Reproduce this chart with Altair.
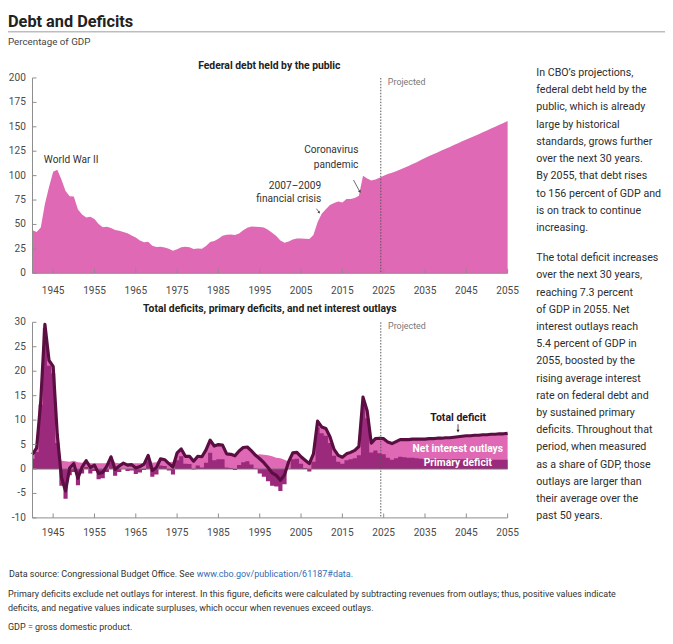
import altair as alt
import pandas as pd

# ---------------- data ----------------
YEARS = list(range(1940, 2056))

DEBT_HIST = [44.2, 42.3, 47.0, 70.9, 88.3, 103.9, 106.1, 96.0, 84.3, 79.0,
             78.6, 65.4, 60.1, 57.1, 57.9, 55.7, 50.6, 47.2, 47.7, 46.4,
             44.3, 43.5, 42.3, 41.0, 38.7, 36.7, 33.7, 31.8, 32.2, 28.3,
             27.0, 27.1, 26.4, 25.1, 23.1, 24.5, 26.7, 27.1, 26.6, 24.9,
             25.5, 25.2, 27.9, 32.1, 33.1, 35.3, 38.4, 39.5, 39.8, 39.3,
             40.8, 44.0, 46.6, 47.8, 47.7, 47.5, 46.8, 44.5, 41.6, 38.2,
             33.6, 31.4, 32.5, 34.5, 35.5, 35.6, 35.3, 35.2, 39.2, 52.3,
             60.9, 65.5, 70.0, 71.9, 73.4, 72.5, 76.1, 76.1, 77.1, 79.4,
             99.8, 97.0, 94.9, 96.0, 97.8]
DEBT_PROJ = [100.0, 101.7, 103.0, 104.6, 106.3, 108.0, 109.9, 111.8, 113.8, 115.9, 118.0,
             120.0, 121.9, 123.8, 125.7, 127.6, 129.4, 131.3, 133.2, 135.1, 137.0,
             138.8, 140.6, 142.5, 144.4, 146.3, 148.2, 150.1, 152.1, 154.0, 156.0]

TOTAL_HIST = [3.0, 4.3, 13.9, 29.6, 22.2, 21.0, 7.0, -1.7, -4.5, 0.2,
              1.1, -1.9, 0.4, 1.7, 0.3, 0.8, -0.9, -0.7, 0.6, 2.5,
              -0.1, 0.6, 1.2, 0.8, 0.9, 0.2, 0.5, 1.0, 2.8, -0.3,
              0.3, 2.1, 1.9, 1.1, 0.4, 3.3, 4.1, 2.6, 2.6, 1.6,
              2.6, 2.5, 3.9, 5.9, 4.7, 5.0, 4.9, 3.1, 3.0, 2.7,
              3.7, 4.4, 4.5, 3.7, 2.8, 2.1, 1.3, 0.3, -0.8, -1.3,
              -2.3, -1.2, 1.5, 3.3, 3.4, 2.5, 1.8, 1.1, 3.1, 9.8,
              8.6, 8.3, 6.6, 4.0, 2.8, 2.4, 3.1, 3.4, 3.8, 4.6,
              14.7, 11.9, 5.3, 6.2, 6.3]
TOTAL_PROJ = [6.2, 5.5, 5.2, 5.6, 6.0, 6.0, 6.0, 6.1, 6.1, 6.1, 6.1,
              6.2, 6.2, 6.3, 6.3, 6.4, 6.4, 6.5, 6.6, 6.7, 6.8,
              6.8, 6.9, 6.9, 7.0, 7.0, 7.1, 7.1, 7.2, 7.2, 7.3]

INTEREST_HIST = [0.9, 0.8, 0.7, 0.8, 1.1, 1.4, 1.7, 1.7, 1.6, 1.5,
                 1.7, 1.4, 1.3, 1.3, 1.2, 1.2, 1.2, 1.2, 1.2, 1.1,
                 1.3, 1.2, 1.2, 1.2, 1.2, 1.2, 1.2, 1.2, 1.2, 1.3,
                 1.4, 1.4, 1.3, 1.4, 1.5, 1.5, 1.5, 1.5, 1.6, 1.7,
                 1.9, 2.2, 2.6, 2.6, 2.9, 3.0, 2.9, 2.8, 2.8, 2.9,
                 2.9, 3.0, 2.9, 2.8, 2.7, 3.0, 2.9, 2.8, 2.6, 2.3,
                 2.2, 1.9, 1.5, 1.3, 1.3, 1.4, 1.6, 1.6, 1.6, 1.3,
                 1.3, 1.5, 1.3, 1.3, 1.3, 1.3, 1.3, 1.4, 1.6, 1.8,
                 1.6, 1.5, 1.9, 2.4, 3.1]
INTEREST_PROJ = [3.2, 3.2, 3.3, 3.4, 3.5, 3.6, 3.7, 3.8, 3.9, 4.0, 4.1,
                 4.2, 4.2, 4.3, 4.3, 4.4, 4.5, 4.5, 4.6, 4.7, 4.8,
                 4.9, 4.9, 5.0, 5.0, 5.1, 5.2, 5.2, 5.3, 5.3, 5.4]

PROJECTION_START = 2024.3

X_TICKS = list(range(1945, 2056, 10))
TOP_Y_TICKS = [0, 25, 50, 75, 100, 125, 150, 175, 200]
BOT_Y_TICKS = [-10, -5, 0, 5, 10, 15, 20, 25, 30]

TITLE = "Debt and Deficits"
SUBTITLE = "Percentage of GDP"
TOP_TITLE = "Federal debt held by the public"
BOT_TITLE = "Total deficits, primary deficits, and net interest outlays"

PARA1 = ["In CBO\u2019s projections,", "federal debt held by the", "public, which is already",
         "large by historical", "standards, grows further", "over the next 30 years.",
         "By 2055, that debt rises", "to 156 percent of GDP and", "is on track to continue",
         "increasing."]
PARA2 = ["The total deficit increases", "over the next 30 years,", "reaching 7.3 percent",
         "of GDP in 2055. Net", "interest outlays reach", "5.4 percent of GDP in",
         "2055, boosted by the", "rising average interest", "rate on federal debt and",
         "by sustained primary", "deficits. Throughout that", "period, when measured",
         "as a share of GDP, those", "outlays are larger than", "their average over the",
         "past 50 years."]

FOOT_SRC = "Data source: Congressional Budget Office. See"
FOOT_LINK = "www.cbo.gov/publication/61187#data."
FOOT_NOTE1 = ("Primary deficits exclude net outlays for interest. In this figure, deficits were calculated by "
              "subtracting revenues from outlays; thus, positive values indicate")
FOOT_NOTE2 = "deficits, and negative values indicate surpluses, which occur when revenues exceed outlays."
FOOT_GDP = "GDP = gross domestic product."

# ---------------- tables ----------------
debt_df = pd.DataFrame({"year": YEARS, "debt": DEBT_HIST + DEBT_PROJ, "zero": 0})
total = TOTAL_HIST + TOTAL_PROJ
interest = INTEREST_HIST + INTEREST_PROJ
primary = [round(t - i, 2) for t, i in zip(total, interest)]
def_df = pd.DataFrame({
    "year": YEARS,
    "total": total,
    "interest": interest,
    "primary": primary,
    "pinktop": [max(p, 0) + i for p, i in zip(primary, interest)],
    "zero": 0,
})
xt_df = pd.DataFrame({"year": X_TICKS, "label": [str(y) for y in X_TICKS]})
yt_top = pd.DataFrame({"v": TOP_Y_TICKS, "label": [str(v) for v in TOP_Y_TICKS]})
yt_bot = pd.DataFrame({"v": BOT_Y_TICKS, "label": [str(v) for v in BOT_Y_TICKS]})
proj_df = pd.DataFrame({"year": [PROJECTION_START], "t0": [0], "t1": [200], "b0": [-10], "b1": [30]})
span_df = pd.DataFrame({"a": [1940], "b": [2055], "t0": [0], "t1": [200], "b0": [-10], "b1": [30], "z": [0]})
ONE = pd.DataFrame({"k": [0]})

# ---------------- layout (pixels inside the view) ----------------
W, H = 665, 628
X0, X1 = 24.8, 505.7
XS = alt.Scale(domain=[1940, 2055], range=[X0, X1], nice=False, zero=False)
YT = alt.Scale(domain=[0, 200], range=[264.7, 67.0], nice=False, zero=False)
YB = alt.Scale(domain=[-10, 30], range=[512.3, 314.3], nice=False, zero=False)

FONT = "Roboto"
PINK = "#DF69B5"
DARK = "#9B2A7C"
LINE = "#5B0E42"
AXIS = "#8c8c8c"
LABEL = "#4a4a4a"


def X(field="year"):
    return alt.X(f"{field}:Q", scale=XS, axis=None)


def txt(s, x, y, size=10.3, weight="normal", color="#333333", align="left", baseline="middle"):
    return alt.Chart(ONE).mark_text(
        text=s, x=x, y=y, fontSize=size, fontWeight=weight, color=color,
        align=align, baseline=baseline, font=FONT
    ).encode(opacity=alt.value(1))


layers = []

# top panel: debt area
layers.append(alt.Chart(debt_df).mark_area(color=PINK, opacity=1).encode(
    x=X(), y=alt.Y("debt:Q", scale=YT, axis=None), y2="zero:Q"))

# bottom panel: net interest (light) + primary deficit (dark, stepped) + total line
layers.append(alt.Chart(def_df).mark_area(color=PINK, opacity=1).encode(
    x=X(), y=alt.Y("pinktop:Q", scale=YB, axis=None), y2="zero:Q"))
layers.append(alt.Chart(def_df).mark_area(color=DARK, opacity=1, interpolate="step").encode(
    x=X(), y=alt.Y("primary:Q", scale=YB, axis=None), y2="zero:Q"))
layers.append(alt.Chart(span_df).mark_rule(color="#7d6b77", strokeWidth=1).encode(
    x=X("a"), x2="b:Q", y=alt.Y("z:Q", scale=YB, axis=None)))
layers.append(alt.Chart(def_df).mark_line(color=LINE, strokeWidth=3.2, strokeJoin="round").encode(
    x=X(), y=alt.Y("total:Q", scale=YB, axis=None)))

# projection dividers
layers.append(alt.Chart(proj_df).mark_rule(color="#555555", strokeWidth=1, strokeDash=[1.5, 1.5]).encode(
    x=X(), y=alt.Y("t1:Q", scale=YT, axis=None), y2="t0:Q"))
layers.append(alt.Chart(proj_df).mark_rule(color="#555555", strokeWidth=1, strokeDash=[1.5, 1.5]).encode(
    x=X(), y=alt.Y("b1:Q", scale=YB, axis=None), y2="b0:Q"))

# axes lines
layers.append(alt.Chart(span_df).mark_rule(color=AXIS, strokeWidth=1).encode(
    x=alt.value(X0), y=alt.Y("t0:Q", scale=YT, axis=None), y2="t1:Q"))
layers.append(alt.Chart(span_df).mark_rule(color=AXIS, strokeWidth=1).encode(
    x=X("a"), x2="b:Q", y=alt.Y("t0:Q", scale=YT, axis=None)))
layers.append(alt.Chart(span_df).mark_rule(color=AXIS, strokeWidth=1).encode(
    x=alt.value(X0), y=alt.Y("b0:Q", scale=YB, axis=None), y2="b1:Q"))
layers.append(alt.Chart(span_df).mark_rule(color=AXIS, strokeWidth=1).encode(
    x=X("a"), x2="b:Q", y=alt.Y("b0:Q", scale=YB, axis=None)))

# ticks
layers.append(alt.Chart(xt_df).mark_rule(color=AXIS, strokeWidth=1).encode(
    x=X(), y=alt.value(264.7), y2=alt.value(260.2)))
layers.append(alt.Chart(xt_df).mark_rule(color=AXIS, strokeWidth=1).encode(
    x=X(), y=alt.value(512.3), y2=alt.value(507.8)))
layers.append(alt.Chart(yt_top).mark_rule(color=AXIS, strokeWidth=1).encode(
    x=alt.value(X0), x2=alt.value(X0 + 4), y=alt.Y("v:Q", scale=YT, axis=None)))
layers.append(alt.Chart(yt_bot).mark_rule(color=AXIS, strokeWidth=1).encode(
    x=alt.value(X0), x2=alt.value(X0 + 4), y=alt.Y("v:Q", scale=YB, axis=None)))

# tick labels
tick_style = dict(font=FONT, fontSize=10.2, color=LABEL, baseline="middle")
layers.append(alt.Chart(xt_df).mark_text(align="center", **tick_style).encode(
    x=X(), y=alt.value(282.3), text="label:N"))
layers.append(alt.Chart(xt_df).mark_text(align="center", **tick_style).encode(
    x=X(), y=alt.value(527.7), text="label:N"))
layers.append(alt.Chart(yt_top).mark_text(align="right", **tick_style).encode(
    x=alt.value(18), y=alt.Y("v:Q", scale=YT, axis=None), text="label:N"))
layers.append(alt.Chart(yt_bot).mark_text(align="right", **tick_style).encode(
    x=alt.value(18), y=alt.Y("v:Q", scale=YB, axis=None), text="label:N"))

# header
layers.append(txt(TITLE, 0, 15, size=16.5, weight="bold", color="#222222", baseline="alphabetic"))
layers.append(alt.Chart(ONE).mark_rule(color="#9a9a9a", strokeWidth=1).encode(
    x=alt.value(0), x2=alt.value(W), y=alt.value(20.3)))
layers.append(txt(SUBTITLE, 0, 30.3, size=9.9, color="#444444"))
layers.append(txt(TOP_TITLE, 264.5, 55, size=10.5, weight="bold", color="#222222", align="center"))
layers.append(txt(BOT_TITLE, 265, 301, size=10.5, weight="bold", color="#222222", align="center"))
layers.append(txt("Projected", 384.5, 71, size=9, color="#777777"))
layers.append(txt("Projected", 384.7, 318, size=9, color="#777777"))

# top annotations
layers.append(txt("World War II", 36.3, 150.3, size=10.3))
layers.append(txt("2007\u20132009", 317, 176.3, size=10.3, align="right"))
layers.append(txt("financial crisis", 317, 189.3, size=10.3, align="right"))
layers.append(txt("Coronavirus", 354.7, 140.3, size=10.3, align="right"))
layers.append(txt("pandemic", 354.7, 154.7, size=10.3, align="right"))
layers.append(alt.Chart(ONE).mark_rule(color="#444444", strokeWidth=0.8).encode(
    x=alt.value(349.7), y=alt.value(170.3), x2=alt.value(355.8), y2=alt.value(181.5)))
layers.append(alt.Chart(ONE).mark_point(shape="triangle-down", filled=True, size=10, angle=331,
                                         color="#444444", opacity=1).encode(
    x=alt.value(356.2), y=alt.value(182.2)))
layers.append(alt.Chart(ONE).mark_rule(color="#444444", strokeWidth=0.8).encode(
    x=alt.value(312.2), y=alt.value(199.3), x2=alt.value(314.6), y2=alt.value(202.6)))
layers.append(alt.Chart(ONE).mark_point(shape="triangle-down", filled=True, size=8, angle=323,
                                         color="#444444", opacity=1).encode(
    x=alt.value(315.0), y=alt.value(203.2)))

# bottom annotations
layers.append(txt("Total deficit", 455.7, 411, size=10.6, weight="bold", color="#2b1424", align="center"))
layers.append(alt.Chart(ONE).mark_rule(color="#2b1424", strokeWidth=0.8).encode(
    x=alt.value(455.5), y=alt.value(417.5), y2=alt.value(423.5)))
layers.append(alt.Chart(ONE).mark_point(shape="triangle-down", filled=True, size=10,
                                         color="#2b1424", opacity=1).encode(
    x=alt.value(455.5), y=alt.value(424.5)))
layers.append(txt("Net interest outlays", 455.3, 442.7, size=10.4, weight="bold", color="#ffffff", align="center"))
layers.append(txt("Primary deficit", 455.3, 456.5, size=10.4, weight="bold", color="#ffffff", align="center"))

# side text
for i, line in enumerate(PARA1):
    layers.append(txt(line, 534.7, 62.0 + i * 17.45, size=10.8, color="#2e2e2e"))
for i, line in enumerate(PARA2):
    layers.append(txt(line, 534.7, 249.5 + i * 17.4, size=10.8, color="#2e2e2e"))

# footer
layers.append(txt(FOOT_SRC, 188.5, 568.7, size=9.1, color="#333333", align="right"))
layers.append(txt(FOOT_LINK, 191, 568.7, size=9.1, color="#2f6db5"))
layers.append(txt(FOOT_NOTE1, 0, 589.3, size=9.1, color="#333333"))
layers.append(txt(FOOT_NOTE2, 0, 603.7, size=9.1, color="#333333"))
layers.append(txt(FOOT_GDP, 0, 622.7, size=9.1, color="#333333"))

chart = alt.layer(*layers).properties(
    width=W, height=H,
    autosize=alt.AutoSizeParams(type="none"),
    padding=0,
).resolve_scale(y="independent").configure_view(stroke=None)

chart.save("out.html", embed_options={"renderer": "svg", "actions": False})
